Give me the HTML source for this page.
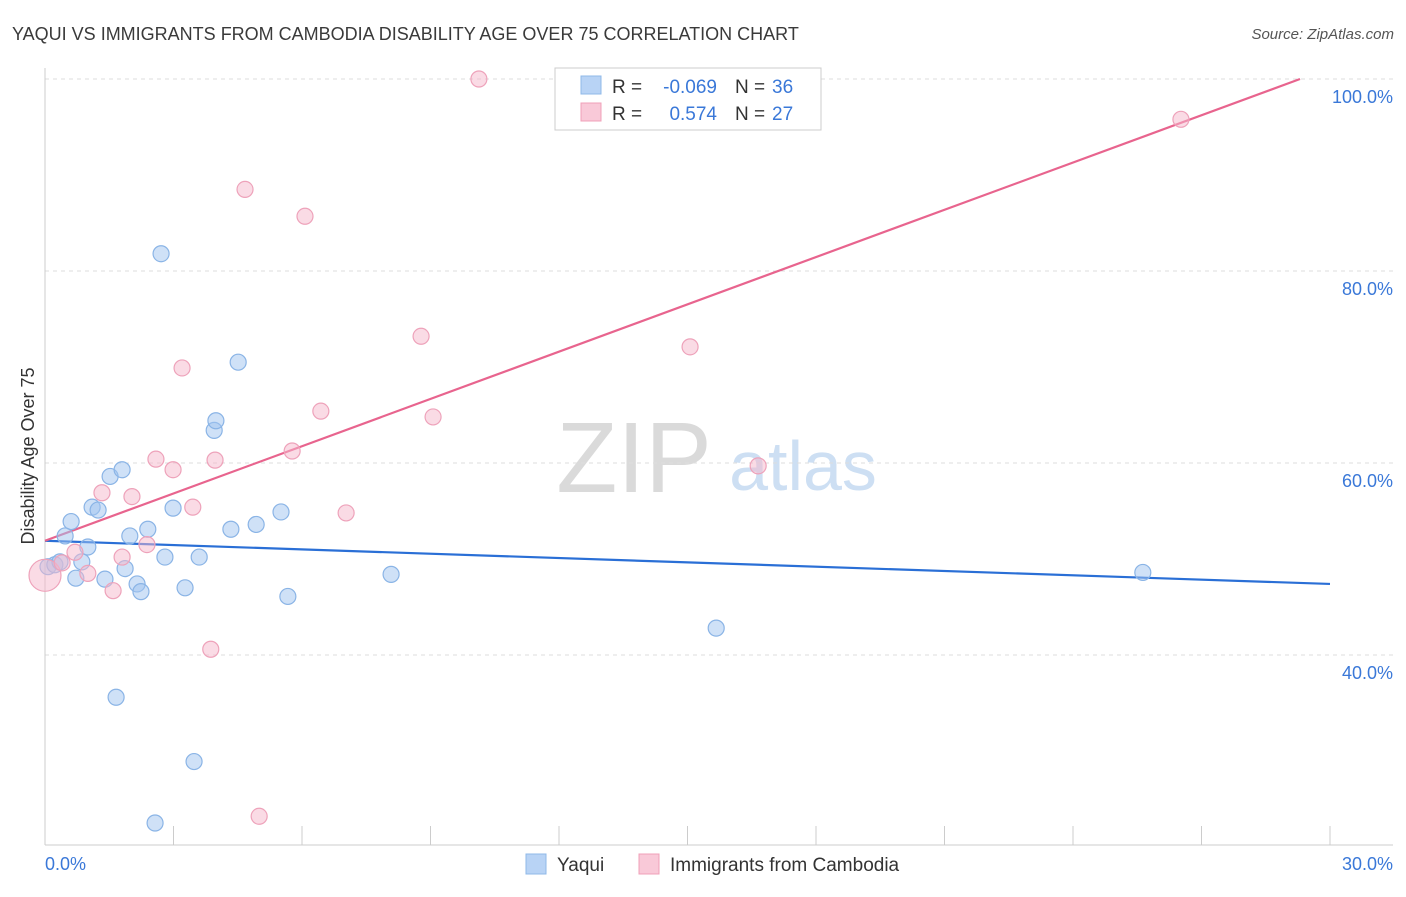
<!DOCTYPE html>
<html><head><meta charset="utf-8"><style>
body{margin:0;background:#fff;font-family:"Liberation Sans",sans-serif;}
svg text{font-family:"Liberation Sans",sans-serif;}
</style></head><body>
<svg id="chart" width="1406" height="892" viewBox="0 0 1406 892">
<text x="12" y="40" font-size="18" fill="#3a3a3a">YAQUI VS IMMIGRANTS FROM CAMBODIA DISABILITY AGE OVER 75 CORRELATION CHART</text>
<text x="1394" y="39" font-size="15" fill="#555" font-style="italic" text-anchor="end">Source: ZipAtlas.com</text>
<g>
<text x="634" y="492" font-size="100" fill="#dadada" font-family="Liberation Serif" text-anchor="middle">ZIP</text>
<text x="803" y="490" font-size="70" fill="#cddff3" text-anchor="middle">atlas</text>
</g>
<g id="grid"></g>
<g id="axes"></g>
<g id="trends"></g>
<g id="points"></g>
<text transform="translate(34,456) rotate(-90)" font-size="18" fill="#333" text-anchor="middle">Disability Age Over 75</text>
<g>
<rect x="555" y="68" width="266" height="62" fill="#fff" stroke="#ccc"/>
<rect x="581" y="76" width="20" height="18" fill="#b8d3f5" stroke="#8fb8e8"/>
<rect x="581" y="103" width="20" height="18" fill="#f9c9d8" stroke="#f0a0b8"/>
<text x="612" y="93" font-size="19" fill="#333">R =</text>
<text x="717" y="93" font-size="19" fill="#3a78d8" text-anchor="end">-0.069</text>
<text x="735" y="93" font-size="19" fill="#333">N =</text>
<text x="772" y="93" font-size="19" fill="#3a78d8">36</text>
<text x="612" y="120" font-size="19" fill="#333">R =</text>
<text x="717" y="120" font-size="19" fill="#3a78d8" text-anchor="end">0.574</text>
<text x="735" y="120" font-size="19" fill="#333">N =</text>
<text x="772" y="120" font-size="19" fill="#3a78d8">27</text>
</g>
<g>
<rect x="526" y="854" width="20" height="20" fill="#b8d3f5" stroke="#8fb8e8"/>
<text x="557" y="871" font-size="19" fill="#333">Yaqui</text>
<rect x="639" y="854" width="20" height="20" fill="#f9c9d8" stroke="#f0a0b8"/>
<text x="670" y="871" font-size="19" fill="#333">Immigrants from Cambodia</text>
</g>
</svg>
<script>
const yTicks=[40,60,80,100];
const xTickLabels=["0.0%","30.0%"];
const blueX=[0.07,0.23,0.35,0.47,0.61,0.72,1.00,1.10,1.24,0.86,1.52,1.80,1.40,1.87,1.98,2.15,2.24,2.40,2.80,2.99,3.27,3.60,3.95,3.99,4.34,4.51,4.93,5.51,5.67,8.08,15.67,25.63,2.71,1.66,3.48,2.57];
const blueY=[49.2,49.4,49.7,52.4,53.9,48.0,51.25,55.4,55.1,49.7,58.6,59.3,47.9,49.0,52.4,47.4,46.6,53.1,50.2,55.3,47.0,50.2,63.4,64.4,53.1,70.5,53.6,54.9,46.1,48.4,42.8,48.6,81.8,35.6,28.9,22.5];
const pinkX=[0,0.40,0.70,1.00,1.33,1.59,1.80,2.03,2.38,2.59,2.99,3.20,3.45,3.87,3.97,4.67,5.00,5.77,6.07,6.44,7.03,8.78,9.06,10.13,15.06,16.65,26.52];
const pinkY=[48.3,49.6,50.7,48.5,56.9,46.7,50.2,56.5,51.5,60.4,59.3,69.9,55.4,40.6,60.3,88.5,23.2,61.25,85.7,65.4,54.8,73.2,64.8,100,72.1,59.7,95.8];
const blueTrend=[51.9,47.4];
const pinkTrend=[51.9,100];
const pinkTrendEndX=29.3;
const NS="http://www.w3.org/2000/svg";
const xs=v=>45+v/30*1285;
const ys=v=>79+(100-v)*9.6;
function mk(tag,attrs,parent){const e=document.createElementNS(NS,tag);for(const k in attrs)e.setAttribute(k,attrs[k]);parent.appendChild(e);return e;}
const grid=document.getElementById('grid'),axes=document.getElementById('axes');
yTicks.forEach(t=>{
 const l=mk('line',{x1:45,x2:1393,y1:ys(t),y2:ys(t),stroke:'#ddd','stroke-dasharray':'4 4'},grid);
 
 
 const tx=mk('text',{x:1393,y:ys(t)+24,'font-size':18,fill:'#3a78d8','text-anchor':'end'},grid);
 tx.textContent=t.toFixed(1)+'%';
 
 
});
const ya=mk('line',{x1:45,x2:45,y1:68,y2:845,stroke:'#ccc'},axes);


const xa=mk('line',{x1:45,x2:1393,y1:845,y2:845,stroke:'#ccc'},axes);


for(let i=1;i<=10;i++){
 const t=mk('line',{x1:xs(i*3),x2:xs(i*3),y1:826,y2:845,stroke:'#ccc'},axes);
 
 
}
[[0,'start',45],[1,'end',1393]].forEach(([i,a,x])=>{
 const tx=mk('text',{x:x,y:870,'font-size':18,fill:'#3a78d8','text-anchor':a},axes);
 tx.textContent=xTickLabels[i];
 
 
});
const pts=document.getElementById('points');
blueX.forEach((v,i)=>{
 const c=mk('circle',{cx:xs(v),cy:ys(blueY[i]),r:8,fill:'rgba(160,196,240,0.5)',stroke:'#8ab4e6','stroke-width':1.2},pts);
 
 
});
pinkX.forEach((v,i)=>{
 const c=mk('circle',{cx:xs(v),cy:ys(pinkY[i]),r:i===0?16:8,fill:'rgba(246,184,204,0.5)',stroke:'#eea2ba','stroke-width':1.2},pts);
 
 
});
const tr=document.getElementById('trends');
const bl=mk('line',{x1:xs(0),y1:ys(blueTrend[0]),x2:xs(30),y2:ys(blueTrend[1]),stroke:'#2a6fd6','stroke-width':2.2},tr);


const pl=mk('line',{x1:xs(0),y1:ys(pinkTrend[0]),x2:xs(pinkTrendEndX),y2:ys(pinkTrend[1]),stroke:'#e8648e','stroke-width':2.2},tr);


</script>
</body></html>
